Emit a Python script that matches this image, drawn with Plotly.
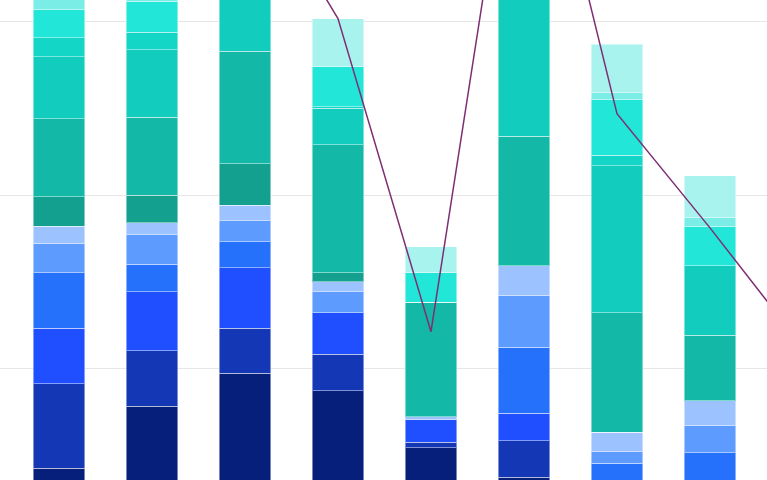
import plotly.graph_objects as go

# categories (the ninth sits just off the right edge of the zoomed view)
cats = [1, 2, 3, 4, 5, 6, 7, 8, 9]

# stacked series, bottom to top
s01 = [14.2, 17.8, 19.7, 18.7, 15.4, 13.7, 10.5, 10.0, 12.0]
s02 = [4.9, 3.2, 2.6, 2.1, 0.3, 2.1, 1.5, 2.0, 2.0]
s03 = [3.2, 3.4, 3.5, 2.4, 1.3, 1.6, 1.5, 1.5, 2.0]
s04 = [3.2, 1.6, 1.5, 0.0, 0.0, 3.8, 1.0, 1.6, 1.5]
s05 = [1.7, 1.7, 1.2, 1.2, 0.0, 3.0, 0.7, 1.6, 1.5]
s06 = [1.0, 0.7, 0.9, 0.6, 0.2, 1.7, 1.1, 1.4, 1.0]
s07 = [1.7, 1.6, 2.4, 0.5, 0.0, 0.0, 0.0, 0.0, 0.5]
s08 = [4.5, 4.5, 6.5, 7.4, 6.6, 7.5, 6.9, 3.8, 4.0]
s09 = [3.6, 3.9, 4.0, 2.1, 0.0, 9.0, 8.5, 4.0, 4.0]
s10 = [1.1, 1.0, 1.0, 0.1, 0.0, 1.0, 0.6, 0.0, 0.5]
s11 = [1.6, 1.8, 1.8, 2.3, 1.7, 2.0, 3.2, 2.3, 2.0]
s12 = [1.0, 1.0, 0.8, 0.0, 0.0, 0.5, 0.4, 0.5, 0.5]
s13 = [1.5, 1.5, 1.5, 2.8, 1.5, 2.0, 2.8, 2.4, 2.0]

# line series
trend = [52.0, 55.0, 49.1, 40.2, 22.1, 56.6, 34.7, 28.1, 21.2]

series = [s01, s02, s03, s04, s05, s06, s07, s08, s09, s10, s11, s12, s13]
colors = ["#061f7a", "#1337b5", "#1f4fff", "#2671fb", "#5e9bff", "#9cc2ff",
          "#13a08f", "#14b8a6", "#12ccbd", "#13d6c6", "#22e6d8", "#7aeee6",
          "#a9f3ee"]

fig = go.Figure()
for i, (vals, col) in enumerate(zip(series, colors)):
    fig.add_trace(go.Bar(x=cats, y=vals, name="s%d" % (i + 1),
                         marker=dict(color=col,
                                     line=dict(color="rgba(255,255,255,0.45)", width=1))))

fig.add_trace(go.Scatter(x=cats, y=trend, mode="lines", name="trend",
                         line=dict(color="#7e2f74", width=1.5)))

fig.update_layout(
    barmode="stack",
    bargap=0.45,
    width=767, height=480,
    margin=dict(l=0, r=0, t=0, b=0),
    paper_bgcolor="white", plot_bgcolor="white",
    showlegend=False,
)
fig.update_xaxes(range=[0.366, 8.613], showticklabels=False, showgrid=False,
                 zeroline=False, showline=False, ticks="")
fig.update_yaxes(range=[13.53, 41.27], tickvals=[20, 30, 40], showticklabels=False,
                 gridcolor="#e6e6e6", gridwidth=1, zeroline=False, showline=False, ticks="")

# page body has an 8px default margin; drop it so the plot fills the window
fig.write_html("out.html", config={"displayModeBar": False},
               post_script="document.body.style.margin='0';")
